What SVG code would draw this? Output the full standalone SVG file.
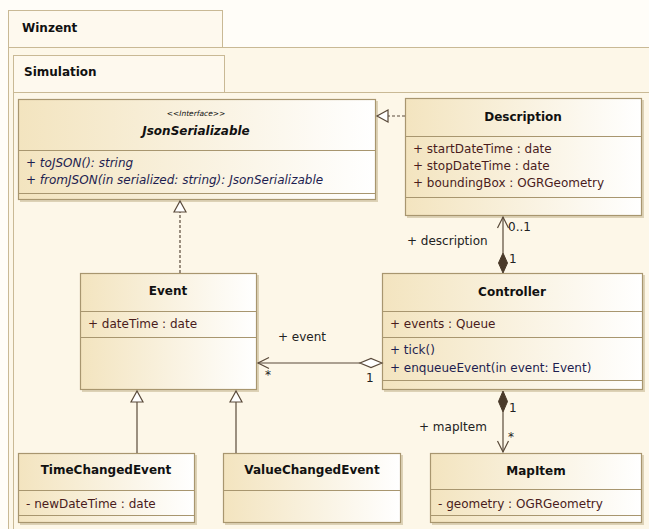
<svg xmlns="http://www.w3.org/2000/svg" width="649" height="529" viewBox="0 0 649 529">
<defs>
<linearGradient id="g" x1="0" y1="0" x2="1" y2="0">
<stop offset="0" stop-color="#f3e4bf"/>
<stop offset="1" stop-color="#ffffff"/>
</linearGradient>
<marker id="tri" markerWidth="14" markerHeight="14" refX="12" refY="7" orient="auto" markerUnits="userSpaceOnUse">
<path d="M12,7 L1,1 L1,13 Z" fill="#ffffff" stroke="#5a4a3a" stroke-width="1.2"/>
</marker>
<marker id="open" markerWidth="14" markerHeight="14" refX="12" refY="7" orient="auto" markerUnits="userSpaceOnUse">
<path d="M1,1.5 L12,7 L1,12.5" fill="none" stroke="#5a4a3a" stroke-width="1.2"/>
</marker>
</defs>
<style>
.frame{fill:#fdf7e8;stroke:#c9b995;stroke-width:1}
.tab{fill:#fef9ee;stroke:#c9b995;stroke-width:1}
.box{fill:url(#g);stroke:#a8966f;stroke-width:1.2}
.sh{fill:#ddd2b6}
.sep{stroke:#a8966f;stroke-width:1}
.t{font-family:"DejaVu Sans",Verdana,sans-serif;font-size:12px;fill:#111}
.b{font-weight:bold;text-anchor:middle}
.fb{font-family:"DejaVu Sans",Verdana,sans-serif;font-size:12px;font-weight:bold;fill:#111}
.at{fill:#4a1c1c}
.op{fill:#1e1e50}
.it{font-style:italic}
.st{font-family:"DejaVu Sans",Verdana,sans-serif;font-size:7.5px;font-style:italic;text-anchor:middle;fill:#111}
.lbl{font-family:"DejaVu Sans",Verdana,sans-serif;font-size:12px;fill:#222}
.ln{stroke:#5a4a3a;stroke-width:1.2;fill:none}
.dash{stroke-dasharray:3,2}
</style>
<rect width="649" height="529" fill="#fffdf8"/>
<g id="frame-winzent">
<rect class="frame" x="8.5" y="47.5" width="700" height="600"/>
<rect class="tab" x="8.5" y="10.5" width="214" height="37"/>
<text class="fb" x="22" y="32">Winzent</text>
</g>
<g id="frame-simulation">
<rect class="frame" x="13.5" y="92.5" width="700" height="600"/>
<rect class="tab" x="13.5" y="55.5" width="211" height="37"/>
<text class="fb" x="24" y="76">Simulation</text>
</g>
<g id="JsonSerializable">
<rect class="sh" x="20" y="101" width="358" height="101"/>
<rect class="box" x="18.5" y="99.5" width="357" height="100"/>
<line class="sep" x1="18.5" y1="150.5" x2="375.5" y2="150.5"/>
<line class="sep" x1="18.5" y1="193.5" x2="375.5" y2="193.5"/>
<text class="st" x="196" y="116">&lt;&lt;Interface&gt;&gt;</text>
<text class="t b it" x="196" y="135">JsonSerializable</text>
<text class="t op it" x="26" y="167">+ toJSON(): string</text>
<text class="t op it" x="26" y="184">+ fromJSON(in serialized: string): JsonSerializable</text>
</g>
<g id="Description">
<rect class="sh" x="407" y="100" width="237" height="118"/>
<rect class="box" x="405.5" y="98.5" width="236" height="117"/>
<line class="sep" x1="405.5" y1="136.5" x2="641.5" y2="136.5"/>
<line class="sep" x1="405.5" y1="197.5" x2="641.5" y2="197.5"/>
<text class="t b" x="523" y="121">Description</text>
<text class="t at" x="413" y="153">+ startDateTime : date</text>
<text class="t at" x="413" y="170">+ stopDateTime : date</text>
<text class="t at" x="413" y="187">+ boundingBox : OGRGeometry</text>
</g>
<g id="Event">
<rect class="sh" x="82" y="275" width="177" height="117"/>
<rect class="box" x="80.5" y="273.5" width="176" height="116"/>
<line class="sep" x1="80.5" y1="311.5" x2="256.5" y2="311.5"/>
<line class="sep" x1="80.5" y1="337.5" x2="256.5" y2="337.5"/>
<text class="t b" x="168" y="295">Event</text>
<text class="t at" x="88" y="328">+ dateTime : date</text>
</g>
<g id="Controller">
<rect class="sh" x="384" y="275" width="261" height="117"/>
<rect class="box" x="382.5" y="273.5" width="260" height="116"/>
<line class="sep" x1="382.5" y1="311.5" x2="642.5" y2="311.5"/>
<line class="sep" x1="382.5" y1="337.5" x2="642.5" y2="337.5"/>
<line class="sep" x1="382.5" y1="380.5" x2="642.5" y2="380.5"/>
<text class="t b" x="512" y="296">Controller</text>
<text class="t at" x="390" y="328">+ events : Queue</text>
<text class="t op" x="390" y="354">+ tick()</text>
<text class="t op" x="390" y="372">+ enqueueEvent(in event: Event)</text>
</g>
<g id="TimeChangedEvent">
<rect class="sh" x="20" y="455" width="177" height="70"/>
<rect class="box" x="18.5" y="453.5" width="176" height="69"/>
<line class="sep" x1="18.5" y1="490.5" x2="194.5" y2="490.5"/>
<line class="sep" x1="18.5" y1="515.5" x2="194.5" y2="515.5"/>
<text class="t b" x="106" y="474">TimeChangedEvent</text>
<text class="t at" x="26" y="508">- newDateTime : date</text>
</g>
<g id="ValueChangedEvent">
<rect class="sh" x="225" y="455" width="178" height="70"/>
<rect class="box" x="223.5" y="453.5" width="177" height="69"/>
<line class="sep" x1="223.5" y1="490.5" x2="400.5" y2="490.5"/>
<text class="t b" x="312" y="474">ValueChangedEvent</text>
</g>
<g id="MapItem">
<rect class="sh" x="432" y="455" width="212" height="70"/>
<rect class="box" x="430.5" y="453.5" width="211" height="69"/>
<line class="sep" x1="430.5" y1="489.5" x2="641.5" y2="489.5"/>
<line class="sep" x1="430.5" y1="515.5" x2="641.5" y2="515.5"/>
<text class="t b" x="536" y="475">MapItem</text>
<text class="t at" x="438" y="508">- geometry : OGRGeometry</text>
</g>
<g id="connectors">
<line class="ln dash" x1="405" y1="116" x2="377" y2="116" marker-end="url(#tri)"/>
<line class="ln dash" x1="180" y1="273" x2="180" y2="201" marker-end="url(#tri)"/>
<line class="ln" x1="137" y1="453" x2="137" y2="391" marker-end="url(#tri)"/>
<line class="ln" x1="236" y1="453" x2="236" y2="391" marker-end="url(#tri)"/>
<line class="ln" x1="360" y1="363" x2="258" y2="363" marker-end="url(#open)"/>
<path d="M382,363 L371,358.5 L360,363 L371,367.5 Z" fill="#ffffff" stroke="#5a4a3a" stroke-width="1.2"/>
<line class="ln" x1="503" y1="253" x2="503" y2="217" marker-end="url(#open)"/>
<path d="M503,273 L498.5,263 L503,253 L507.5,263 Z" fill="#4a3a2a" stroke="#4a3a2a" stroke-width="1"/>
<line class="ln" x1="503" y1="412" x2="503" y2="452" marker-end="url(#open)"/>
<path d="M503,391 L498.5,401.5 L503,412 L507.5,401.5 Z" fill="#4a3a2a" stroke="#4a3a2a" stroke-width="1"/>
<text class="lbl" x="407" y="245">+ description</text>
<text class="lbl" x="508" y="231">0..1</text>
<text class="lbl" x="509" y="263">1</text>
<text class="lbl" x="278" y="341">+ event</text>
<text class="lbl" x="265" y="379">*</text>
<text class="lbl" x="366" y="382">1</text>
<text class="lbl" x="509" y="412">1</text>
<text class="lbl" x="419" y="431">+ mapItem</text>
<text class="lbl" x="508" y="441">*</text>
</g>
</svg>
